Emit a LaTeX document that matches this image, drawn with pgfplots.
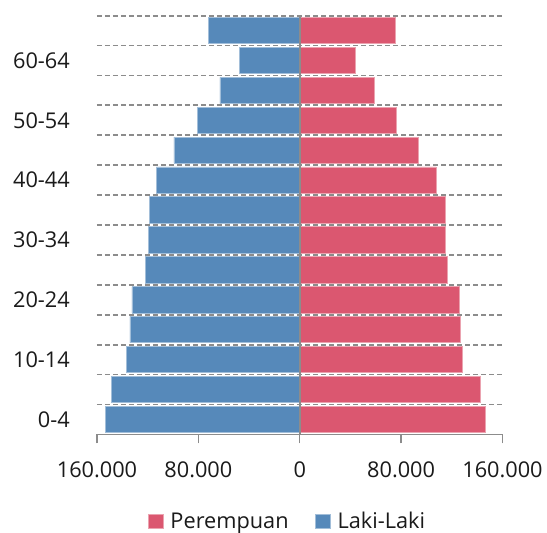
\documentclass[border=0pt]{standalone}
\usepackage{fontspec}
\setmainfont{Open Sans}
\usepackage{pgfplots}
\pgfplotsset{compat=1.18}
\definecolor{laki}{HTML}{5689BA}
\definecolor{perem}{HTML}{DB5770}
\definecolor{gridgray}{HTML}{8C8C8C}
\definecolor{txt}{HTML}{1A1A1A}
\newcommand{\lblfont}{\fontsize{21.8pt}{26pt}\selectfont}

\begin{document}
\begin{tikzpicture}
\begin{axis}[
  at={(0,0)}, anchor=south west,
  scale only axis, width=405.5bp, height=418.6bp,
  xbar, bar width=0.88, bar shift=0pt,
  xmin=-160000, xmax=160000,
  ymin=-0.5, ymax=13.5,
  separate axis lines,
  axis x line*=bottom, axis y line*=left,
  x axis line style={gridgray, line width=1.5bp},
  y axis line style={draw=none},
  xtick={-160000,-80000,0,80000,160000},
  xticklabels={160.000,80.000,0,80.000,160.000},
  scaled ticks=false,
  xtick align=outside,
  major tick length=9bp,
  xtick style={gridgray, line width=1.5bp},
  ytick={0,2,...,12},
  yticklabels={0-4,10-14,20-24,30-34,40-44,50-54,60-64},
  ytick style={draw=none},
  minor ytick={0.5,1.5,...,13.5},
  yminorgrids=true,
  minor grid style={gridgray, line width=1.8bp, dash pattern=on 5.3bp off 2.7bp},
  ticklabel style={font=\lblfont, text=txt, inner sep=0pt},
  yticklabel style={anchor=east},
  yticklabel shift=18bp,
  xticklabel style={anchor=north},
  xticklabel shift=18bp,
  axis on top,
  legend columns=2,
  legend style={draw=none, fill=none, inner sep=0pt, outer sep=0pt,
    font=\lblfont, text=txt,
    at={(0.1265,-0.208)}, anchor=west,
    nodes={inner sep=0pt},
    /tikz/every odd column/.append style={column sep=7bp},
    /tikz/every even column/.append style={column sep=26.7bp}},
  legend image code/.code={\fill[#1] (0bp,-7.2bp) rectangle (14.4bp,7.2bp);},
]
\addplot[fill=perem, draw=perem!55!white, line width=0.8bp] coordinates {
  (146700,0) (142800,1) (128000,2) (126600,3) (126000,4) (116700,5) (114800,6)
  (115000,7) (107600,8) (93800,9) (76000,10) (59200,11) (44000,12) (75400,13)
};
\addlegendentry{Perempuan}
\addplot[fill=laki, draw=laki!55!white, line width=0.8bp] coordinates {
  (-153000,0) (-148600,1) (-136500,2) (-134000,3) (-132400,4) (-121600,5) (-119200,6)
  (-118300,7) (-113100,8) (-99300,9) (-80600,10) (-63000,11) (-47600,12) (-72100,13)
};
\addlegendentry{Laki-Laki}
\draw[gridgray, line width=2bp] (axis cs:0,-0.5) -- (axis cs:0,13.5);
\end{axis}
\path[use as bounding box] (-97bp,-98.7bp) rectangle (450bp,434.3bp);
\end{tikzpicture}
\end{document}
